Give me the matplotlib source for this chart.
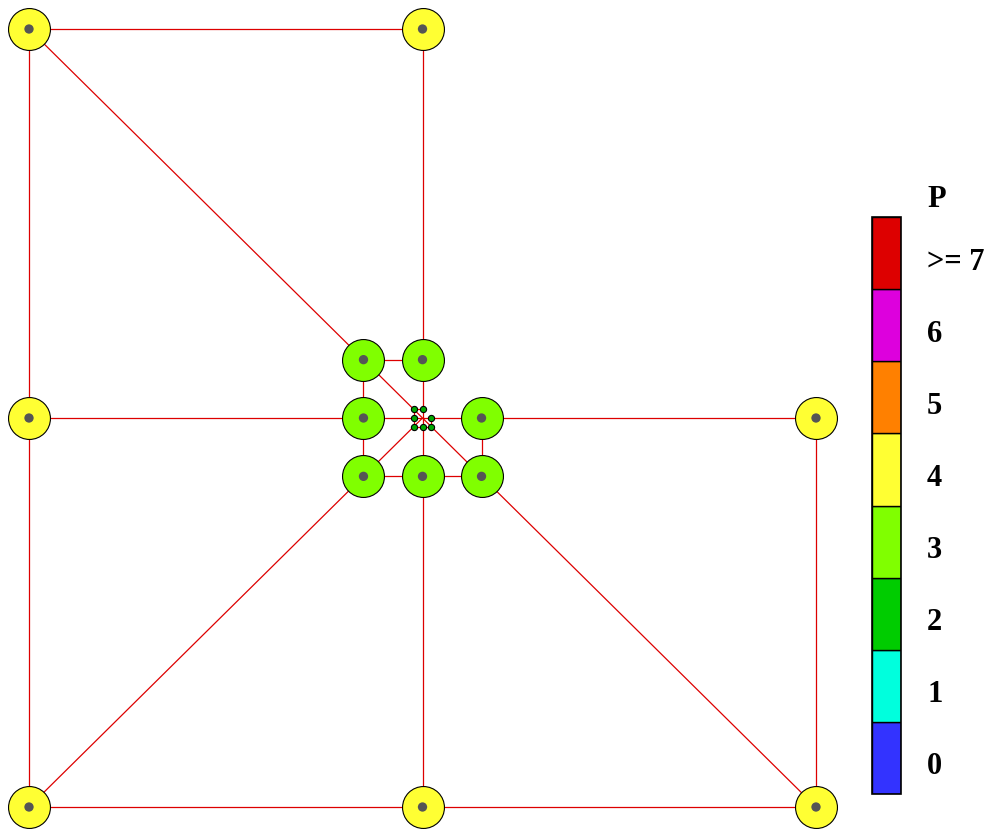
import matplotlib
matplotlib.use("Agg")
import matplotlib.pyplot as plt
from matplotlib.patches import Rectangle

# ---- data ----
# mesh vertices (x, y) and polynomial degree P of the nodes drawn on them
node_x = [-1, 0, -1, 1, -1, 0, 1,
          -0.15, 0, -0.15, 0.15, -0.15, 0, 0.15,
          -0.0225, 0, -0.0225, 0.0225, -0.0225, 0, 0.0225]
node_y = [1, 1, 0, 0, -1, -1, -1,
          0.15, 0.15, 0, 0, -0.15, -0.15, -0.15,
          0.0225, 0.0225, 0, 0, -0.0225, -0.0225, -0.0225]
node_p = [4, 4, 4, 4, 4, 4, 4,
          3, 3, 3, 3, 3, 3, 3,
          2, 2, 2, 2, 2, 2, 2]
# centre vertex of the refinement (no node drawn)
center_xy = (0.0, 0.0)
# element edges as vertex index pairs (index 21 = centre vertex)
edges = [(0, 1), (0, 2), (2, 4), (4, 5), (5, 6), (6, 3),
         (0, 7), (1, 8), (2, 9), (3, 10), (4, 11), (5, 12), (6, 13),
         (7, 8), (7, 9), (9, 11), (11, 12), (12, 13), (13, 10),
         (7, 14), (8, 15), (9, 16), (10, 17), (11, 18), (12, 19), (13, 20),
         (14, 15), (14, 16), (16, 18), (18, 19), (19, 20), (20, 17),
         (14, 21), (15, 21), (16, 21), (17, 21), (18, 21), (19, 21), (20, 21)]
p_levels = [0, 1, 2, 3, 4, 5, 6, 7]
p_labels = ["0", "1", "2", "3", "4", "5", "6", ">= 7"]
p_colors = ["#3333FF", "#00FFDD", "#00CC00", "#80FF00",
            "#FFFF33", "#FF8000", "#DD00DD", "#DD0000"]

# ---- figure ----
W, H = 994, 832
fig = plt.figure(figsize=(W / 100, H / 100), dpi=100)
ax = fig.add_axes([0, 0, 1, 1])
sx, sy = 393.5, 389.0
x0 = -1 - 29 / sx
y0 = -1 - (H - 807) / sy
ax.set_xlim(x0, x0 + W / sx)
ax.set_ylim(y0, y0 + H / sy)
ax.axis("off")

vx = node_x + [center_xy[0]]
vy = node_y + [center_xy[1]]
for a, b in edges:
    ax.plot([vx[a], vx[b]], [vy[a], vy[b]], color="#DD0000", lw=0.9,
            zorder=1, solid_capstyle="butt")

for x, y, p in zip(node_x, node_y, node_p):
    col = p_colors[p_levels.index(p)]
    if p >= 3:
        ax.scatter([x], [y], s=910, c=col, edgecolors="black",
                   linewidths=0.8, zorder=3)
        ax.scatter([x], [y], s=45, c="#555555", edgecolors="none", zorder=4)
    else:
        ax.scatter([x], [y], s=20, c="#00A800", edgecolors="black",
                   linewidths=0.8, zorder=3)

# ---- colour legend ----
cax = fig.add_axes([872 / W, 1 - 794 / H, 29 / W, 577 / H])
cax.set_xlim(0, 1)
cax.set_ylim(0, len(p_levels))
cax.axis("off")
for i, c in enumerate(p_colors):
    cax.add_patch(Rectangle((0, i), 1, 1, facecolor=c, edgecolor="black",
                            lw=1.0))
cax.add_patch(Rectangle((0, 0), 1, len(p_levels), facecolor="none",
                        edgecolor="black", lw=1.2, clip_on=False))
seg = 577 / len(p_levels)
for i, lab in enumerate(p_labels):
    y_px = 794 - (i + 0.5) * seg + 16.5
    fig.text(927 / W, 1 - y_px / H, lab, ha="left", va="baseline",
             fontsize=22, fontweight="bold", family="Liberation Serif")
fig.text(927 / W, 1 - 207 / H, "P", ha="left", va="baseline",
         fontsize=22, fontweight="bold", family="Liberation Serif")

fig.savefig("out.png", dpi=100)
